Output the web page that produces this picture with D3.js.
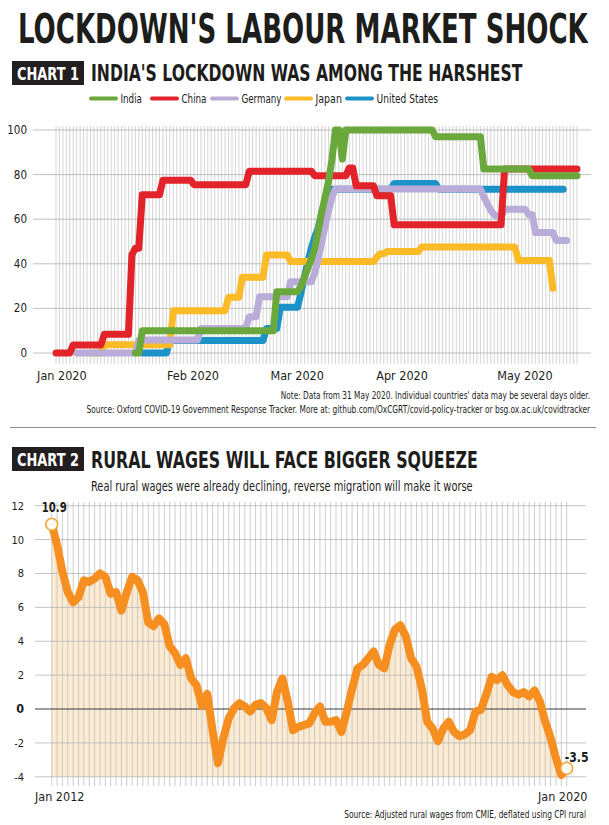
<!DOCTYPE html>
<html><head><meta charset="utf-8">
<script src="https://cdn.jsdelivr.net/npm/d3@7/dist/d3.min.js"></script>
<style>html,body{margin:0;padding:0;background:#fff;}</style>
</head><body>
<script>
// ---------- DATA ----------
const seriesNames = ["India", "China", "Germany", "Japan", "United States"];
// change points [dayIndex from 1 Jan 2020, stringency]; value held until next change
const india   = [[23,0],[25,10],[64,27.5],[71,30],[72,34],[73,38],[74,42],[75,47],[76,55],[77,63],[78,70],[79,77],[80,87],[81,100],[83,87],[84,100],[110,97],[124,82.5],[138,79.5]];
const china   = [[0,0],[5,3.6],[14,8.4],[22,44],[23,47],[25,71],[31,77.5],[40,75.5],[56,81.5],[75,79.5],[85,83],[87,75],[93,70.5],[98,57.5],[130,82.5]];
const germany = [[6,0],[24,5.8],[42,11],[56,16.3],[59,25.2],[68,32],[75,36],[76,42],[77,50],[78,57],[79,64],[80,70],[81,73.5],[124,70],[125,67],[126,64],[127,62],[128,61],[130,64.5],[137,62],[139,54],[145,50.5]];
const japan   = [[10,0],[14,3.7],[34,19],[50,25],[54,34],[61,44],[68,41],[93,43],[94,44.5],[96,45.5],[106,47.5],[134,41.5],[144,29]];
const usa     = [[25,0],[33,5.6],[61,11],[65,20.5],[71,27],[72,34],[73,41],[74,47],[75,52],[76,56],[77,63],[78,68],[79,73.4],[98,76],[111,73.4]];
const lastDay = [151, 151, 148, 144, 147];
const c1YTicks = [0, 20, 40, 60, 80, 100];
const c1XTickLabels = ["Jan 2020", "Feb 2020", "Mar 2020", "Apr 2020", "May 2020"];
const c1XTickDays = [1.7, 39.7, 69.9, 100.3, 135.9];

// Chart 2: real rural wage growth, monthly Jan 2012 .. Jan 2020
const wages = [10.9,9.7,8.1,6.9,6.3,6.6,7.6,7.5,7.7,8.0,7.8,6.8,6.9,5.8,6.9,7.8,7.6,6.9,5.1,4.9,
  5.35,5.0,3.7,3.3,2.6,3.0,1.8,1.4,0.2,0.9,-1.3,-3.2,-1.7,-0.55,0.05,0.35,0.15,-0.15,0.25,0.35,
  0.05,-0.65,1.0,1.8,0.45,-1.25,-1.05,-0.95,-0.85,-0.25,0.15,-0.75,-0.75,-0.65,-1.35,-0.15,1.2,2.4,2.6,3.0,
  3.4,2.6,2.4,3.8,4.7,4.95,4.3,3.0,2.5,1.2,-0.75,-1.15,-1.9,-1.15,-0.75,-1.35,-1.6,-1.5,-1.25,-0.15,
  -0.05,0.85,1.9,1.7,2.0,1.4,1.0,0.85,1.0,0.75,1.1,0.45,-0.75,-1.7,-2.9,-3.9,-3.5];
const c2YTicks = [-4, -2, 0, 2, 4, 6, 8, 10, 12];
const c2XTickLabels = ["Jan 2012", "Jan 2020"];

// ---------- STYLE ----------
const colors = ["#6aa83c", "#e2232a", "#b9acd8", "#fbbb26", "#1b93c9"];
const COND = "'Liberation Sans Narrow','DejaVu Sans Condensed','Roboto Condensed','Noto Sans',sans-serif";
const INK = "#1d1d1b";

const svg = d3.select("body").append("svg").attr("width", 609).attr("height", 825)
  .style("font-family", COND);
svg.append("rect").attr("width", 609).attr("height", 825).attr("fill", "#fff");

function txt(x, y, s, size, opts = {}) {
  const t = svg.append("text").text(s)
    .attr("font-size", size).attr("fill", opts.fill || INK)
    .attr("font-weight", opts.bold ? 700 : 400)
    .attr("text-anchor", opts.anchor || "start");
  if (opts.width) {
    t.attr("x", 0).attr("y", 0);
    const w = t.node().getComputedTextLength();
    const sx = w > 0 ? opts.width / w : 1;
    t.attr("transform", `translate(${x},${y}) scale(${sx},1)`);
  } else {
    t.attr("x", x).attr("y", y);
  }
  return t;
}

// ---------- HEADERS ----------
txt(18, 43, "LOCKDOWN'S LABOUR MARKET SHOCK", 40, {bold: true, width: 570});
svg.append("rect").attr("x", 12).attr("y", 61).attr("width", 72).attr("height", 24).attr("fill", "#231f20");
txt(48, 79.5, "CHART 1", 17, {bold: true, fill: "#fff", anchor: "middle", width: 62});
txt(91, 81, "INDIA'S LOCKDOWN WAS AMONG THE HARSHEST", 23, {bold: true, width: 432});

// legend
const legendX = [91, 152, 212, 286, 347];
const legendW = [21.5, 25, 40, 26.5, 61.5];
seriesNames.forEach((n, i) => {
  svg.append("line").attr("x1", legendX[i]).attr("x2", legendX[i] + 25)
    .attr("y1", 98.5).attr("y2", 98.5).attr("stroke", colors[i]).attr("stroke-width", 4)
    .attr("stroke-linecap", "round");
  txt(legendX[i] + 29.5, 103, n, 12.5, {width: legendW[i]});
});

// ---------- CHART 1 ----------
const x1 = d3.scaleLinear().domain([0, 151]).range([56, 577]);
const y1 = d3.scaleLinear().domain([0, 100]).range([353, 130]);

const g1 = svg.append("g");
g1.selectAll("line.vg").data(d3.range(0, 152)).join("line")
  .attr("x1", d => x1(d)).attr("x2", d => x1(d)).attr("y1", 126).attr("y2", 364)
  .attr("stroke", "#bdbdbd").attr("stroke-width", 0.65);
g1.selectAll("line.hg").data(c1YTicks).join("line")
  .attr("x1", 33).attr("x2", 591).attr("y1", d => y1(d)).attr("y2", d => y1(d))
  .attr("stroke", "#b0b0b0").attr("stroke-width", 0.8);
c1YTicks.forEach(t => txt(27, y1(t) + 4, t, 11.5, {anchor: "end"}));
c1XTickLabels.forEach((l, i) => txt(x1(c1XTickDays[i]), 380, l, 12.5, {anchor: "middle"}));

function expand(ch, end) {
  const out = []; let k = 0;
  for (let d = ch[0][0]; d <= end; d++) {
    while (k + 1 < ch.length && ch[k + 1][0] <= d) k++;
    out.push([d, ch[k][1]]);
  }
  return out;
}
const allSeries = [india, china, germany, japan, usa];
const line1 = d3.line().x(d => x1(d[0])).y(d => y1(d[1]));
// draw in reverse legend order (India on top)
[4, 3, 2, 1, 0].forEach(i => {
  g1.append("path").attr("d", line1(expand(allSeries[i], lastDay[i])))
    .attr("fill", "none").attr("stroke", colors[i]).attr("stroke-width", 7)
    .attr("stroke-linejoin", "round").attr("stroke-linecap", "round");
});

txt(590, 399, "Note: Data from 31 May 2020. Individual countries' data may be several days older.", 10, {anchor: "end", width: 310});
txt(590, 412.5, "Source: Oxford COVID-19 Government Response Tracker. More at: github.com/OxCGRT/covid-policy-tracker or bsg.ox.ac.uk/covidtracker", 10, {anchor: "end", width: 504});
svg.append("line").attr("x1", 10).attr("x2", 596).attr("y1", 427.5).attr("y2", 427.5)
  .attr("stroke", "#8a8a8a").attr("stroke-width", 1.2);

// ---------- CHART 2 ----------
svg.append("rect").attr("x", 12).attr("y", 447).attr("width", 72).attr("height", 24).attr("fill", "#231f20");
txt(48, 465.5, "CHART 2", 17, {bold: true, fill: "#fff", anchor: "middle", width: 62});
txt(91, 468, "RURAL WAGES WILL FACE BIGGER SQUEEZE", 23, {bold: true, width: 387});
txt(91, 491, "Real rural wages were already declining, reverse migration will make it worse", 14.5, {width: 382});

const x2 = d3.scaleLinear().domain([0, wages.length - 1]).range([51.7, 566.7]);
const y2 = d3.scaleLinear().domain([-4, 12]).range([776.8, 505.7]);
const g2 = svg.append("g");

g2.append("path").datum(wages)
  .attr("d", d3.area().x((d, i) => x2(i)).y0(y2(-4)).y1(d => y2(d)))
  .attr("fill", "#fce8ca").attr("opacity", 0.85);
g2.selectAll("line.vg").data(d3.range(wages.length)).join("line")
  .attr("x1", d => x2(d)).attr("x2", d => x2(d)).attr("y1", 502).attr("y2", 786)
  .attr("stroke", "#b9b9b9").attr("stroke-width", 0.7);
g2.selectAll("line.hg").data(c2YTicks).join("line")
  .attr("x1", 35).attr("x2", 586).attr("y1", d => y2(d)).attr("y2", d => y2(d))
  .attr("stroke", d => d === 0 ? "#3a3a3a" : "#b5b5b5").attr("stroke-width", d => d === 0 ? 1.1 : 0.8);
c2YTicks.forEach(t => txt(24, y2(t) + 4, t, t === 0 ? 12.5 : 11, {anchor: "end", bold: t === 0}));

g2.append("path").datum(wages)
  .attr("d", d3.line().x((d, i) => x2(i)).y(d => y2(d)))
  .attr("fill", "none").attr("stroke", "#f68f1f").attr("stroke-width", 8)
  .attr("stroke-linejoin", "round").attr("stroke-linecap", "round");

const ends = [0, wages.length - 1];
ends.forEach(i => {
  g2.append("circle").attr("cx", x2(i)).attr("cy", y2(wages[i])).attr("r", 6)
    .attr("fill", "#fffaf0").attr("stroke", "#f0a43a").attr("stroke-width", 1.5);
});
txt(x2(0) - 10, 512, wages[0].toFixed(1), 14.5, {bold: true, width: 25});
txt(x2(wages.length - 1) - 2, 762, wages[wages.length - 1].toFixed(1), 14.5, {bold: true, width: 24});

txt(x2(0) + 8, 801, c2XTickLabels[0], 12.5, {anchor: "middle"});
txt(x2(wages.length - 1) - 4, 801, c2XTickLabels[1], 12.5, {anchor: "middle"});
txt(586, 818, "Source: Adjusted rural wages from CMIE, deflated using CPI rural", 10, {anchor: "end", width: 242});
</script>
</body></html>
